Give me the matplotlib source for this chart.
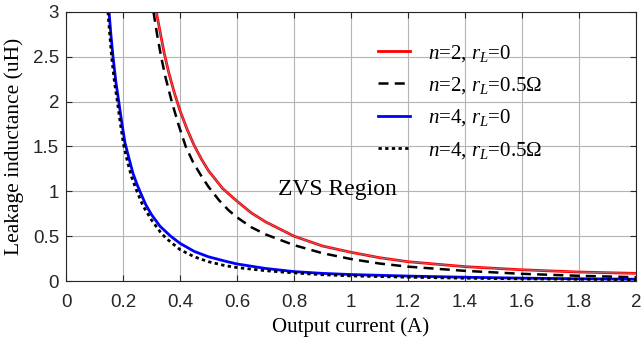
import matplotlib
matplotlib.use("Agg")
import matplotlib.pyplot as plt

plt.rcParams["mathtext.fontset"] = "custom"
plt.rcParams["mathtext.rm"] = "Liberation Serif"
plt.rcParams["mathtext.it"] = "Liberation Serif:italic"

# values
i_n2_r0 = [0.317, 0.33, 0.344, 0.36, 0.38, 0.4, 0.425, 0.45, 0.475, 0.5, 0.55, 0.6, 0.65, 0.7,
           0.8, 0.9, 1.0, 1.1, 1.2, 1.4, 1.6, 1.8, 2.0]
l_n2_r0 = [3.0, 2.78, 2.55, 2.33, 2.1, 1.9, 1.69, 1.51, 1.36, 1.23, 1.03, 0.89, 0.76, 0.66,
           0.50, 0.39, 0.32, 0.26, 0.215, 0.16, 0.125, 0.10, 0.085]

i_n2_r5 = [0.307, 0.32, 0.335, 0.35, 0.371, 0.395, 0.42, 0.445, 0.473, 0.5, 0.537, 0.57, 0.6,
           0.65, 0.7, 0.8, 0.9, 1.0, 1.1, 1.2, 1.4, 1.6, 1.8, 2.0]
l_n2_r5 = [3.0, 2.74, 2.48, 2.26, 2.0, 1.74, 1.5, 1.33, 1.18, 1.05, 0.9, 0.79, 0.71,
           0.6, 0.52, 0.40, 0.31, 0.245, 0.195, 0.16, 0.113, 0.08, 0.058, 0.042]

i_n4_r0 = [0.151, 0.158, 0.165, 0.175, 0.186, 0.196, 0.207, 0.22, 0.235, 0.25, 0.262, 0.28, 0.3,
           0.33, 0.367, 0.4, 0.45, 0.5, 0.56, 0.6, 0.7, 0.8, 0.9, 1.0, 1.2, 1.4, 1.6, 1.8, 2.0]
l_n4_r0 = [3.0, 2.73, 2.5, 2.22, 1.98, 1.76, 1.54, 1.38, 1.2, 1.07, 0.98, 0.85, 0.74,
           0.61, 0.5, 0.42, 0.33, 0.27, 0.22, 0.19, 0.14, 0.105, 0.085, 0.072, 0.055, 0.042, 0.032, 0.025, 0.02]

i_n4_r5 = [0.147, 0.154, 0.16, 0.17, 0.181, 0.191, 0.202, 0.215, 0.23, 0.25, 0.27, 0.3, 0.33,
           0.35, 0.4, 0.45, 0.5, 0.56, 0.6, 0.7, 0.8, 0.9, 1.0, 1.2, 1.4, 1.6, 1.8, 2.0]
l_n4_r5 = [3.0, 2.73, 2.5, 2.22, 1.98, 1.75, 1.52, 1.34, 1.16, 0.99, 0.84, 0.68, 0.55,
           0.48, 0.35, 0.27, 0.215, 0.17, 0.15, 0.115, 0.09, 0.07, 0.057, 0.042, 0.031, 0.024, 0.019, 0.015]

x_ticks = [0, 0.2, 0.4, 0.6, 0.8, 1, 1.2, 1.4, 1.6, 1.8, 2]
x_labels = ["0", "0.2", "0.4", "0.6", "0.8", "1", "1.2", "1.4", "1.6", "1.8", "2"]
y_ticks = [0, 0.5, 1, 1.5, 2, 2.5, 3]
y_labels = ["0", "0.5", "1", "1.5", "2", "2.5", "3"]

fig = plt.figure(figsize=(6.44, 3.45), dpi=100)
ax = fig.add_axes([0.1025, 0.1855, 0.885, 0.78])

ax.plot(i_n2_r0, l_n2_r0, color="red", lw=2.0, label=r"$n$=2, $r_L$=0")
ax.plot(i_n2_r0, l_n2_r0, color="#8c8c9c", lw=0.5)
ax.plot(i_n2_r5, l_n2_r5, color="black", lw=1.8, ls=(0, (4, 2.5)), label=r"$n$=2, $r_L$=0.5$\Omega$")
ax.plot(i_n4_r0, l_n4_r0, color="blue", lw=2.0, label=r"$n$=4, $r_L$=0")
ax.plot(i_n4_r5, l_n4_r5, color="black", lw=2.0, ls=(0, (1.2, 1.2)), label=r"$n$=4, $r_L$=0.5$\Omega$")

ax.set_xlim(0, 2)
ax.set_ylim(0, 3)
ax.set_xticks(x_ticks)
ax.set_xticklabels(x_labels)
ax.set_yticks(y_ticks)
ax.set_yticklabels(y_labels)
ax.grid(True, color="#b4b4b4", lw=0.8)
ax.tick_params(direction="in", top=True, right=True, length=4, width=0.8,
               colors="#262626", labelsize=13.5)
ax.tick_params(axis="x", pad=9)
ax.tick_params(axis="y", pad=5)
for lab in ax.get_xticklabels() + ax.get_yticklabels():
    lab.set_family("Liberation Sans")
for sp in ax.spines.values():
    sp.set_color("#262626")
    sp.set_linewidth(0.8)

ax.set_xlabel("Output current (A)", family="Liberation Serif", fontsize=15, labelpad=5)
ax.set_ylabel("Leakage inductance (uH)", family="Liberation Serif", fontsize=15.5, labelpad=6)

ax.text(0.372, 0.34, "ZVS Region", transform=ax.transAxes, family="Liberation Serif",
        fontsize=17, va="center", ha="left")

leg = ax.legend(loc="upper left", bbox_to_anchor=(0.514, 0.955), frameon=False,
                prop={"family": "Liberation Serif", "size": 15},
                handlelength=1.55, handletextpad=0.85, labelspacing=0.55)

fig.savefig("out.png", dpi=100)
